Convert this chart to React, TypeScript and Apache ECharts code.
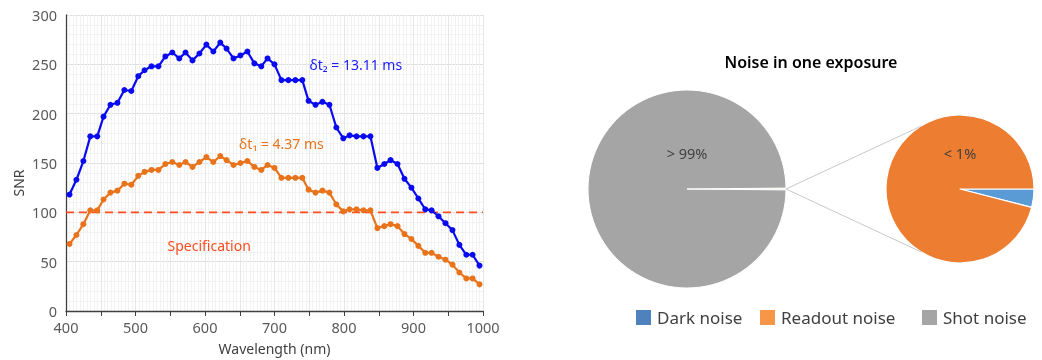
import React, { useEffect, useRef } from "react";
import * as echarts from "echarts";

const wavelengths = [405, 415, 425, 435, 445, 454, 464, 474, 484, 494, 504, 513, 523, 533, 543, 553, 563, 572, 582, 592, 602, 612, 622, 631, 641, 651, 661, 671, 681, 690, 700, 710, 720, 730, 740, 749, 759, 769, 779, 789, 799, 808, 818, 828, 838, 848, 858, 867, 877, 887, 897, 907, 917, 926, 936, 946, 956, 966, 976, 985, 995];
const snrLong = [118, 133, 152, 177, 177, 197, 209, 211, 224, 223, 238, 244, 248, 248, 258, 262, 256, 262, 254, 261, 270, 263, 272, 266, 256, 259, 263, 251, 248, 256, 250, 234, 234, 234, 234, 213, 209, 212, 209, 186, 175, 178, 177, 177, 177, 145, 149, 153, 149, 134, 125, 114, 103, 102, 96, 89, 82, 67, 57, 57, 46];
const snrShort = [68, 77, 88, 102, 102, 113, 120, 122, 129, 128, 137, 141, 143, 143, 149, 151, 148, 151, 146, 151, 156, 151, 157, 153, 148, 150, 152, 146, 143, 148, 145, 135, 135, 135, 135, 123, 120, 122, 120, 108, 101, 103, 103, 102, 102, 84, 86, 88, 86, 78, 73, 66, 59, 59, 55, 52, 47, 39, 33, 33, 27];
const specRange = [400, 1000];
const specValue = 100;

const mainNames = ["Other", "Shot noise"];
const mainValues = [0.3, 99.7];
const subNames = ["Dark noise", "Readout noise"];
const subValues = [4, 96];
const legendNames = ["Dark noise", "Readout noise", "Shot noise"];
const legendColors = ["#4f81bd", "#f79646", "#a5a5a5"];
const legendLefts = [629, 753, 915];

const FONT = "Noto Sans";

export default function App() {
  const ref = useRef<HTMLDivElement>(null);
  useEffect(() => {
    if (!ref.current) return;
    const chart = echarts.init(ref.current, undefined, { renderer: "svg" });
    const c1 = [687, 189];
    const r1 = 99;
    const c2 = [960, 189];
    const r2 = 74;
    const ang = (122 * Math.PI) / 180;
    const sliverAngle = (mainValues[0] / (mainValues[0] + mainValues[1])) * 360;

    chart.setOption({
      animation: false,
      textStyle: { fontFamily: FONT },
      grid: { left: 66, right: 559, top: 15, bottom: 47 },
      xAxis: {
        type: "value",
        min: 400,
        max: 1000,
        interval: 50,
        name: "Wavelength (nm)",
        nameLocation: "middle",
        nameGap: 30,
        nameTextStyle: { fontSize: 14, color: "#404040", fontFamily: FONT },
        axisLine: { show: true, onZero: false, lineStyle: { color: "#404040", width: 1.3 } },
        axisTick: { show: true, length: 5, lineStyle: { color: "#404040" } },
        axisLabel: {
          fontSize: 14.5,
          color: "#595959",
          margin: 8,
          fontFamily: FONT,
          formatter: (v: number) => (v % 100 === 0 ? String(v) : ""),
        },
        splitLine: { show: true, lineStyle: { color: "#e6e6e6" } },
        minorTick: { show: false, splitNumber: 10 },
        minorSplitLine: { show: true, lineStyle: { color: "#f2f2f2" } },
      },
      yAxis: {
        type: "value",
        min: 0,
        max: 300,
        interval: 50,
        axisLine: { show: true, lineStyle: { color: "#404040", width: 1.3 } },
        axisTick: { show: false },
        axisLabel: { fontSize: 14.5, color: "#595959", margin: 9, fontFamily: FONT },
        splitLine: { show: true, lineStyle: { color: "#dedede" } },
        minorTick: { show: false, splitNumber: 5 },
        minorSplitLine: { show: true, lineStyle: { color: "#f2f2f2" } },
      },
      legend: legendNames.map((n, i) => ({
        left: legendLefts[i],
        top: 303,
        itemWidth: 17,
        itemHeight: 17,
        icon: "rect",
        textStyle: { fontSize: 17, color: "#404040", fontFamily: FONT },
        data: [{ name: n, itemStyle: { color: legendColors[i] } }],
      })),
      series: [
        {
          name: "Specification",
          type: "line",
          data: specRange.map((x) => [x, specValue]),
          symbol: "none",
          lineStyle: { color: "#ff4b1f", width: 1.6, type: [8, 5] },
          markPoint: {
            symbol: "circle",
            symbolSize: 0,
            label: { show: true, position: "inside", color: "#ff4b1f", fontSize: 14, fontFamily: FONT, formatter: "Specification" },
            data: [{ coord: [606, 66] }],
          },
        },
        {
          name: "dt2",
          type: "line",
          data: wavelengths.map((w, i) => [w, snrLong[i]]),
          symbol: "circle",
          symbolSize: 6,
          itemStyle: { color: "#0a0af0" },
          lineStyle: { color: "#0a0af0", width: 2.2 },
          markPoint: {
            symbol: "circle",
            symbolSize: 0,
            label: { show: true, position: "inside", color: "#1a1aff", fontSize: 14, fontFamily: FONT, formatter: "δt₂ = 13.11 ms" },
            data: [{ coord: [817, 250] }],
          },
        },
        {
          name: "dt1",
          type: "line",
          data: wavelengths.map((w, i) => [w, snrShort[i]]),
          symbol: "circle",
          symbolSize: 6,
          itemStyle: { color: "#e8731a" },
          lineStyle: { color: "#e8731a", width: 2.2 },
          markPoint: {
            symbol: "circle",
            symbolSize: 0,
            label: { show: true, position: "inside", color: "#e8731a", fontSize: 14, fontFamily: FONT, formatter: "δt₁ = 4.37 ms" },
            data: [{ coord: [710, 170] }],
          },
        },
        {
          name: "main",
          type: "pie",
          center: c1,
          radius: r1,
          startAngle: sliverAngle / 2,
          clockwise: true,
          label: { show: false },
          labelLine: { show: false },
          emphasis: { disabled: true },
          itemStyle: { borderColor: "#ffffff", borderWidth: 1 },
          data: mainNames.map((n, i) => ({
            name: n,
            value: mainValues[i],
            itemStyle: { color: i === 0 ? "#f2dcb4" : "#a5a5a5" },
          })),
        },
        {
          name: "sub",
          type: "pie",
          center: c2,
          radius: r2,
          startAngle: 0,
          clockwise: true,
          label: { show: false },
          labelLine: { show: false },
          emphasis: { disabled: true },
          itemStyle: { borderColor: "#ffffff", borderWidth: 1.2 },
          data: subNames.map((n, i) => ({
            name: n,
            value: subValues[i],
            itemStyle: { color: i === 0 ? "#5b9bd5" : "#ed7d31" },
          })),
        },
      ],
      graphic: [
        {
          type: "text",
          x: 18,
          y: 183,
          rotation: Math.PI / 2,
          z: 100,
          style: { text: "SNR", fontSize: 14, fill: "#404040", fontFamily: FONT, textAlign: "center", textVerticalAlign: "middle" },
        },
        {
          type: "text",
          x: 811,
          y: 62,
          z: 100,
          style: { text: "Noise in one exposure", fontSize: 16, fontWeight: 600, fill: "#000000", fontFamily: FONT, textAlign: "center", textVerticalAlign: "middle" },
        },
        {
          type: "text",
          x: c1[0],
          y: c1[1] - 36,
          z: 100,
          style: { text: "> 99%", fontSize: 14.5, fill: "#404040", fontFamily: FONT, textAlign: "center", textVerticalAlign: "middle" },
        },
        {
          type: "text",
          x: c2[0],
          y: c2[1] - 36,
          z: 100,
          style: { text: "< 1%", fontSize: 14.5, fill: "#404040", fontFamily: FONT, textAlign: "center", textVerticalAlign: "middle" },
        },
        {
          type: "line",
          z: 100,
          shape: { x1: c1[0] + r1, y1: c1[1], x2: c2[0] + r2 * Math.cos(ang), y2: c2[1] - r2 * Math.sin(ang) },
          style: { stroke: "#c8c8c8", lineWidth: 1 },
        },
        {
          type: "line",
          z: 100,
          shape: { x1: c1[0] + r1, y1: c1[1], x2: c2[0] + r2 * Math.cos(ang), y2: c2[1] + r2 * Math.sin(ang) },
          style: { stroke: "#c8c8c8", lineWidth: 1 },
        },
      ],
    });
    return () => chart.dispose();
  }, []);
  return <div ref={ref} style={{ position: "fixed", left: 0, top: 0, width: 1042, height: 360 }} />;
}
